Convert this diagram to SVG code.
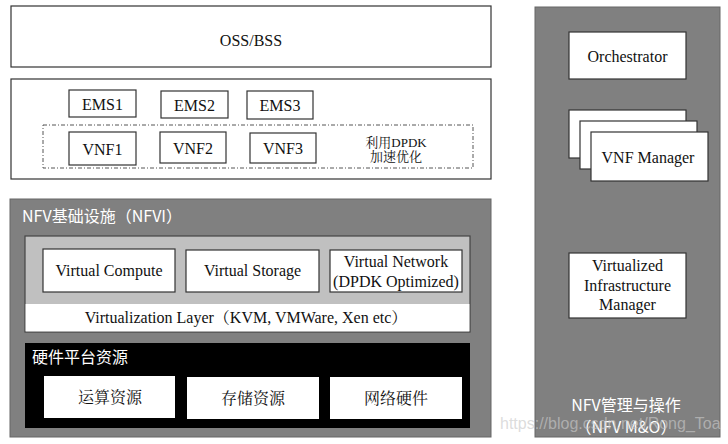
<svg xmlns="http://www.w3.org/2000/svg" width="728" height="444" viewBox="0 0 728 444">
<style>
.box{fill:#fff;stroke:#333;stroke-width:1.2}
.t{font-family:"Liberation Serif","Times New Roman","DejaVu Serif",serif;font-size:16px;fill:#111;text-anchor:middle}
.cjk{font-family:"Liberation Serif","Noto Serif CJK SC","Noto Sans CJK SC",serif;font-size:16px;fill:#111;text-anchor:middle}
.w{font-family:"Noto Sans CJK SC","Liberation Sans",sans-serif;font-size:16px;fill:#fff}
.wm{font-family:"Liberation Sans",Arial,sans-serif;font-size:16px;fill:#c9c9c9;fill-opacity:0.65}
</style>
<rect width="728" height="444" fill="#fff"/>
<g id="oss"><rect class="box" x="11" y="6" width="480" height="61"/><text class="t" x="251" y="46">OSS/BSS</text></g>
<g id="vnf-layer"><rect class="box" x="11" y="79" width="480" height="100"/></g>
<g id="vnf-dpdk"><rect x="43" y="125" width="430" height="43" fill="none" stroke="#555" stroke-width="1" stroke-dasharray="4 2 1 2"/>
<text class="cjk" x="396" y="147" style="font-size:13px">利用DPDK</text>
<text class="cjk" x="396" y="161" style="font-size:13px">加速优化</text></g>
<g id="ems1"><rect class="box" x="69" y="90" width="67" height="27"/><text class="t" x="102.5" y="110">EMS1</text></g>
<g id="ems2"><rect class="box" x="161" y="91" width="67" height="27"/><text class="t" x="194.5" y="111">EMS2</text></g>
<g id="ems3"><rect class="box" x="247" y="91" width="66" height="28"/><text class="t" x="280" y="111">EMS3</text></g>
<g id="vnf1"><rect class="box" x="69" y="132" width="67" height="33"/><text class="t" x="102.5" y="155">VNF1</text></g>
<g id="vnf2"><rect class="box" x="160" y="132" width="66" height="31"/><text class="t" x="193" y="154">VNF2</text></g>
<g id="vnf3"><rect class="box" x="250" y="133" width="66" height="30"/><text class="t" x="283" y="154">VNF3</text></g>

<g id="nfvi"><rect x="10" y="199" width="481" height="238" fill="#808080" stroke="#666" stroke-width="1"/>
<text class="w" x="22" y="222">NFV基础设施（NFVI）</text></g>
<g id="virt"><rect x="25" y="236" width="445" height="96" fill="#c0c0c0" stroke="#444" stroke-width="1.2"/>
<rect x="25.6" y="304" width="443.8" height="27.4" fill="#fff"/>
<text class="cjk" x="246" y="323">Virtualization Layer（KVM, VMWare, Xen etc）</text></g>
<g id="vcompute"><rect class="box" x="43" y="249" width="132" height="43" stroke="#777"/><text class="t" x="109" y="276">Virtual Compute</text></g>
<g id="vstorage"><rect class="box" x="186" y="250" width="133" height="42" stroke="#777"/><text class="t" x="252.5" y="276">Virtual Storage</text></g>
<g id="vnetwork"><rect class="box" x="330" y="250" width="132" height="42" stroke="#777"/><text class="t" x="396" y="267">Virtual Network</text><text class="t" x="396" y="287">(DPDK Optimized)</text></g>
<g id="hw"><rect x="25" y="343" width="445" height="85" fill="#000"/>
<text class="w" x="32" y="363">硬件平台资源</text></g>
<g id="compute"><rect x="44" y="376" width="131" height="42" fill="#fff"/><text class="cjk" x="110" y="403">运算资源</text></g>
<g id="storage"><rect x="187" y="377" width="132" height="42" fill="#fff"/><text class="cjk" x="253" y="404">存储资源</text></g>
<g id="network"><rect x="330" y="377" width="132" height="42" fill="#fff"/><text class="cjk" x="396" y="404">网络硬件</text></g>

<g id="mano"><rect x="535" y="7" width="185" height="430" fill="#808080" stroke="#666" stroke-width="1"/>
<text class="w" x="626" y="411" text-anchor="middle">NFV管理与操作</text>
<text class="w" x="626" y="433" text-anchor="middle">（NFV M&amp;O）</text></g>
<g id="orch"><rect class="box" x="569" y="32" width="117" height="47"/><text class="t" x="627.5" y="62">Orchestrator</text></g>
<g id="vnfm"><rect class="box" x="569" y="110" width="117" height="48"/><rect class="box" x="580" y="121" width="117" height="48"/><rect class="box" x="591" y="132" width="117" height="49"/><text class="t" x="648" y="163">VNF Manager</text></g>
<g id="vim"><rect class="box" x="569" y="253" width="117" height="65"/><text class="t" x="627.5" y="271">Virtualized</text><text class="t" x="627.5" y="291">Infrastructure</text><text class="t" x="627.5" y="310">Manager</text></g>
<g id="connectors"></g>
<text class="wm" x="500" y="429">https://blog.csdn.net/Rong_Toa</text>
</svg>
